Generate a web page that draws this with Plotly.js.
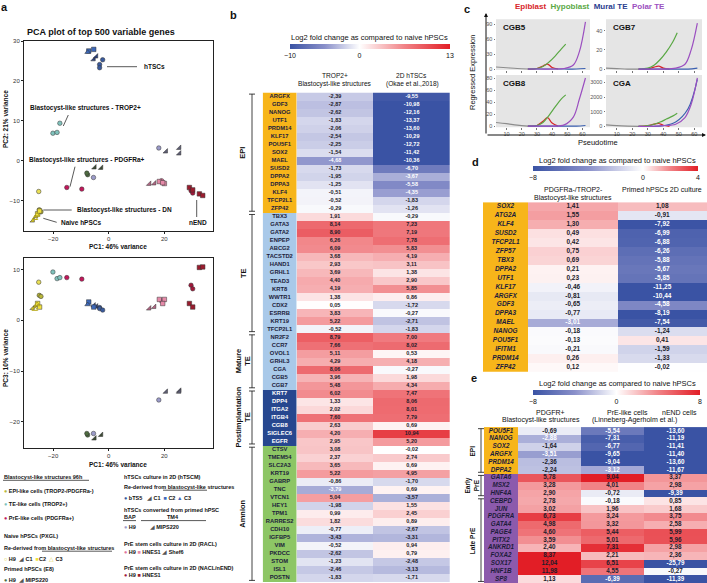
<!DOCTYPE html>
<html><head><meta charset="utf-8">
<script src="https://cdn.plot.ly/plotly-3.0.1.min.js"></script>
<style>html,body{margin:0;padding:0;background:#fff}#chart{width:707px;height:583px}</style>
</head><body><div id="chart"></div>
<script>
// ================= DATA =================
// ---- Panel a : PCA (PC1, PC2, PC3) per sample group ----
const epiLikePC1 = [-25.0, -24.4], epiLikePC2 = [-12.3, -12.8], epiLikePC3 = [4.9, 4.7];
const naiveH9PC1 = [-25.2], naiveH9PC2 = [-7.7], naiveH9PC3 = [7.5];
const naiveC1PC1 = [-27.3, -26.1], naiveC1PC2 = [-15.0, -13.9], naiveC1PC3 = [2.4, 2.9];
const naiveC2PC1 = [-25.6, -24.9], naiveC2PC2 = [-13.3, -12.6], naiveC2PC3 = [3.3, 2.6];
const naiveC3PC1 = [-26.6, -25.8], naiveC3PC2 = [-14.4, -13.6], naiveC3PC3 = [2.2, 3.1];
const teLikePC1 = [-20.1, -18.6, -17.6], teLikePC2 = [6.9, 7.1, 9.4], teLikePC3 = [9.5, 8.2, 8.4];
const preLikePC1 = [-15.1, -9.7], preLikePC2 = [-6.7, -7.1], preLikePC3 = [8.4, 8.1];
const htscBts5PC1 = [-3.3, -3.3, -2.2], htscBts5PC2 = [24.1, 23.3, 25.3], htscBts5PC3 = [2.5, 2.3, 2.0];
const htscC1PC1 = [-5.4, -4.5], htscC1PC2 = [25.4, 26.1], htscC1PC3 = [2.9, 2.7];
const htscC2PC1 = [-7.2, -5.4], htscC2PC2 = [27.5, 27.9], htscC2PC3 = [3.6, 2.6];
const htscC3PC1 = [-7.6], htscC3PC2 = [27.2], htscC3PC3 = [3.1];
const primedH9PC1 = [-7.6, -7.9], primedH9PC2 = [-3.5, -3.1], primedH9PC3 = [-22.6, -22.3];
const primedMipsPC1 = [-5.1, -2.7], primedMipsPC2 = [-1.7, -1.8], primedMipsPC3 = [-23.3, -22.6];
const bapH9PC1 = [-5.5, 18.0], bapH9PC2 = [-4.2, 3.2], bapH9PC3 = [-22.3, -15.7];
const tm4MipsPC1 = [20.6, 25.4, 25.4], tm4MipsPC2 = [2.3, 3.2, 1.8], tm4MipsPC3 = [-14.1, -13.9, -14.1];
const raclH9PC1 = [19.0], raclH9PC2 = [-5.0], raclH9PC3 = [3.8];
const raclHnesPC1 = [18.2, 20.0, 19.4], raclHnesPC2 = [-5.2, -5.7, -5.5], raclHnesPC3 = [4.1, 4.1, 3.3];
const raclShefPC1 = [14.6, 16.4], raclShefPC2 = [-5.8, -5.7], raclShefPC3 = [2.3, 2.6];
const nendH9PC1 = [29.6, 30.2], nendH9PC2 = [-7.5, -8.1], nendH9PC3 = [6.9, 6.2];
const nendHnesPC1 = [29.0, 30.2, 32.6, 33.8], nendHnesPC2 = [-6.7, -7.3, -8.3, -8.7], nendHnesPC3 = [3.3, 2.6, 10.4, 10.5];

// ---- Panel b ----
const bGenes = ['ARGFX','GDF3','NANOG','UTF1','PRDM14','KLF17','POU5F1','SOX2','MAEL','SUSD2','DPPA2','DPPA3','KLF4','TFCP2L1','ZFP42',
 'TBX3','GATA3','GATA2','ENPEP','ABCG2','TACSTD2','HAND1','GRHL1','TEAD3','KRT8','WWTR1','CDX2','ESRRB','KRT19','TFCP2L1',
 'NR2F2','CCR7','OVOL1','GRHL3','CGA','CGB5','CGB7',
 'KRT7','DPP4','ITGA2','ITGB4','CGB8','SIGLEC6','EGFR',
 'CTSV','TMEM54','SLC2A3','KRT19','GABRP','TNC','VTCN1','HEY1','TPM1','RARRES2','CDH10','IGFBP5','VIM','PKDCC','STOM','ISL1','POSTN'];
const bTrop2 = [-2.39,-2.87,-2.62,-1.83,-2.06,-2.54,-2.25,-1.54,-4.68,-1.73,-1.95,-1.25,-0.51,-0.52,-0.29,
 1.91,8.14,8.90,6.26,6.09,3.68,2.93,3.69,4.40,4.19,1.38,0.05,3.83,5.22,-0.52,
 8.79,7.66,5.11,4.29,8.06,3.96,5.48,
 6.02,1.33,2.02,7.60,2.63,4.20,2.95,
 3.08,2.37,3.65,5.22,-0.86,-3.79,5.04,-1.98,0.99,1.82,-0.77,-3.43,-0.52,-2.62,-1.23,-2.46,-1.83];
const bOkae = [-9.55,-10.98,-12.16,-13.37,-13.60,-10.29,-12.72,-11.42,-10.36,-6.70,-3.67,-5.58,-4.35,-1.83,-1.26,
 -0.29,7.23,7.19,7.78,5.83,4.19,3.11,1.38,2.90,5.85,0.86,-1.72,-0.27,-2.71,-1.83,
 7.00,8.02,0.53,4.18,-0.27,1.98,4.34,
 7.47,8.06,8.01,7.79,0.69,10.94,5.20,
 -0.02,2.74,0.69,4.95,-1.70,0.69,-3.57,1.55,2.45,0.89,-2.67,-3.31,0.94,0.79,-2.48,-3.13,-1.71];
const bGroupNames = ['EPI','TE','Mature<br>TE','Postimplantation<br>TE','Amnion'];
const bGroupSizes = [15,15,7,7,17];

// ---- Panel c (pseudotime trajectories) ----
const trunkT = [3, 10, 17, 24];
const epiT = [24, 30, 34, 37, 40, 44];
const hypoT = [24, 30, 34, 38, 42, 46, 49];
const muralT = [24, 32, 40, 48, 56, 62];
const polarT = [24, 32, 40, 48, 54, 58, 62];
const cGenes = ['CGB5','CGB7','CGB8','CGA'];
const cgb5Trunk = [4, 2.5, 1, 0], cgb5Epi = [0, 1, 6, 10, 3, 0], cgb5Hypo = [0, 1, 5, 14, 26, 40, 50], cgb5Mural = [0, 0, 0, 0, 0, 1], cgb5Polar = [0, 0, 0, 1, 8, 35, 95];
const cgb7Trunk = [1, 0.5, 0, 0], cgb7Epi = [0, 0, 2, 3, 1, 0], cgb7Hypo = [0, 1, 4, 10, 18, 28, 38], cgb7Mural = [0, 0, 0, 0, 0, 1], cgb7Polar = [0, 0, 0, 1, 5, 20, 48];
const cgb8Trunk = [6, 4, 1.5, 0], cgb8Epi = [0, 1, 8, 14, 5, 0], cgb8Hypo = [0, 1, 6, 18, 32, 45, 52], cgb8Mural = [0, 0, 0, 0, 0, 1], cgb8Polar = [0, 0, 0, 2, 15, 45, 80];
const cgaTrunk = [100, 50, 20, 0], cgaEpi = [0, 50, 150, 200, 80, 0], cgaHypo = [0, 50, 150, 300, 500, 700, 900], cgaMural = [0, 0, 50, 300, 1200, 3200], cgaPolar = [0, 0, 50, 150, 600, 1500, 3300];

// ---- Panel d ----
const dGenes = ['SOX2','ATG2A','KLF4','SUSD2','TFCP2L1','ZFP57','TBX3','DPPA2','UTF1','KLF17','ARGFX','GDF3','DPPA3','MAEL','NANOG','POU5F1','IFITM1','PRDM14','ZFP42'];
const dBlastoDN = [1.41,1.55,1.30,0.49,0.42,0.75,0.69,0.21,0.23,-0.46,-0.81,-0.65,-0.77,-3.01,-0.18,-0.13,-0.21,0.26,0.12];
const dPrimed2D = [1.08,-0.91,-7.92,-6.99,-6.88,-6.26,-5.88,-5.67,-5.85,-11.25,-10.44,-4.58,-8.19,-7.54,-1.24,0.41,-1.59,-1.33,-0.02];

// ---- Panel e ----
const eGenes = ['POU5F1','NANOG','SOX2','ARGFX','PRDM14','DPPA2','GATA6','MSX2','HNF4A','CEBPD','JUN','PDGFRA','GATA4','PAGE4','PITX2','ANKRD1','FOXA2','SOX17','HNF1B','SP8'];
const ePdgfr = [-0.69,-2.88,-1.64,-3.51,-2.36,-2.24,5.78,3.28,2.90,2.78,3.02,6.73,4.98,4.60,3.59,2.40,8.37,12.04,11.98,1.13];
const ePreLike = [-5.54,-7.31,-6.77,-9.65,-9.04,-3.12,9.04,4.01,-0.72,-0.18,1.96,3.24,3.32,5.44,5.01,7.31,2.21,6.51,4.55,-6.39];
const eNend = [-13.60,-11.19,-11.41,-11.40,-13.60,-11.67,3.37,2.98,-9.39,0.85,1.68,3.75,2.58,5.99,5.96,2.98,2.36,-25.79,-0.27,-11.39];
const eGroupNames = ['EPI','Early<br>PrE','Late PrE'];
const eGroupSizes = [6,3,11];

// ================= HELPERS =================
const W = 707, H = 583;
const X = p => p / W;
const Y = p => 1 - p / H;
const FONT = 'Liberation Sans, Arial, Helvetica, sans-serif';
const fmt = v => v.toFixed(2).replace('.', ',');
const BLUE = 'rgb(58,83,164)', RED = 'rgb(226,30,38)';
function divScale(zmin, zmax) {
  const m = -zmin / (zmax - zmin);
  return [[0, BLUE], [m * 0.5, 'rgb(138,144,202)'], [m, 'rgb(255,255,255)'], [m + (1 - m) * 0.5, 'rgb(241,130,134)'], [1, RED]];
}
function discrete(colors) {
  const n = colors.length, cs = [];
  colors.forEach((c, i) => { cs.push([i / n, c]); cs.push([(i + 1) / n, c]); });
  return cs;
}
function groupIndex(sizes) { const out = []; sizes.forEach((n, k) => { for (let i = 0; i < n; i++) out.push(k); }); return out; }

const data = [];
const shapes = [];
const annotations = [];
function ann(o) { annotations.push(Object.assign({xref: 'paper', yref: 'paper', xanchor: 'center', yanchor: 'middle', showarrow: false, borderpad: 0, font: {family: FONT, size: 7, color: '#111'}}, o)); }
function pline(x0, y0, x1, y1, w, c) { shapes.push({type: 'line', xref: 'paper', yref: 'paper', x0: X(x0), y0: Y(y0), x1: X(x1), y1: Y(y1), line: {color: c || '#111', width: w || 0.8}}); }

// ================= PANEL a =================
const pcaGroups = [
  {pc1: epiLikePC1, pc2: epiLikePC2, pc3: epiLikePC3, symbol: 'circle', color: '#b9b73a', size: 4.5},
  {pc1: naiveH9PC1, pc2: naiveH9PC2, pc3: naiveH9PC3, symbol: 'circle', color: '#e9df55', size: 4.5},
  {pc1: naiveC1PC1, pc2: naiveC1PC2, pc3: naiveC1PC3, symbol: 'triangle-se', color: '#cfc22a', size: 5},
  {pc1: naiveC2PC1, pc2: naiveC2PC2, pc3: naiveC2PC3, symbol: 'square', color: '#f2e23c', size: 4.5},
  {pc1: naiveC3PC1, pc2: naiveC3PC2, pc3: naiveC3PC3, symbol: 'triangle-up-open', color: '#b8aa1c', size: 5},
  {pc1: teLikePC1, pc2: teLikePC2, pc3: teLikePC3, symbol: 'circle', color: '#80c2bc', size: 4.5},
  {pc1: preLikePC1, pc2: preLikePC2, pc3: preLikePC3, symbol: 'circle', color: '#c2185b', size: 4.5},
  {pc1: htscBts5PC1, pc2: htscBts5PC2, pc3: htscBts5PC3, symbol: 'circle', color: '#3a5a9c', size: 4.5},
  {pc1: htscC1PC1, pc2: htscC1PC2, pc3: htscC1PC3, symbol: 'triangle-se', color: '#2b3f7a', size: 5},
  {pc1: htscC2PC1, pc2: htscC2PC2, pc3: htscC2PC3, symbol: 'square', color: '#3d68b8', size: 4.5},
  {pc1: htscC3PC1, pc2: htscC3PC2, pc3: htscC3PC3, symbol: 'triangle-up', color: '#3d68b8', size: 5},
  {pc1: primedH9PC1, pc2: primedH9PC2, pc3: primedH9PC3, symbol: 'circle', color: '#4e6b40', size: 4.5},
  {pc1: primedMipsPC1, pc2: primedMipsPC2, pc3: primedMipsPC3, symbol: 'triangle-se', color: '#3d4a35', size: 5},
  {pc1: bapH9PC1, pc2: bapH9PC2, pc3: bapH9PC3, symbol: 'circle', color: '#9b9bc9', size: 4.5},
  {pc1: tm4MipsPC1, pc2: tm4MipsPC2, pc3: tm4MipsPC3, symbol: 'triangle-se', color: '#5e5e74', size: 5},
  {pc1: raclH9PC1, pc2: raclH9PC2, pc3: raclH9PC3, symbol: 'circle', color: '#e0739c', size: 4.5},
  {pc1: raclHnesPC1, pc2: raclHnesPC2, pc3: raclHnesPC3, symbol: 'square', color: '#e58aa8', size: 4.5},
  {pc1: raclShefPC1, pc2: raclShefPC2, pc3: raclShefPC3, symbol: 'triangle-se', color: '#b06683', size: 5},
  {pc1: nendH9PC1, pc2: nendH9PC2, pc3: nendH9PC3, symbol: 'circle', color: '#a0183a', size: 4.5},
  {pc1: nendHnesPC1, pc2: nendHnesPC2, pc3: nendHnesPC3, symbol: 'square', color: '#9a1c2e', size: 4.5}
];
pcaGroups.forEach(g => {
  const open = g.symbol.indexOf('open') >= 0;
  const marker = {symbol: g.symbol, color: g.color, size: g.size, line: {color: open ? g.color : '#333', width: open ? 1 : 0.5}};
  data.push({type: 'scatter', mode: 'markers', x: g.pc1, y: g.pc2, xaxis: 'x', yaxis: 'y', marker, hoverinfo: 'skip', showlegend: false});
  data.push({type: 'scatter', mode: 'markers', x: g.pc1, y: g.pc3, xaxis: 'x2', yaxis: 'y2', marker, hoverinfo: 'skip', showlegend: false});
});
const pcaAxis = {showline: true, mirror: true, linecolor: '#222', linewidth: 1, ticks: 'outside', ticklen: 2, tickcolor: '#222',
  tickfont: {family: FONT, size: 6, color: '#333'}, showgrid: false, zeroline: false};

const lblFont = {family: FONT, size: 6.5, color: '#111'};
ann({x: X(26), y: Y(32), xanchor: 'left', text: '<b>PCA plot of top 500 variable genes</b>', font: {family: FONT, size: 9, color: '#111'}});
ann({x: X(143), y: Y(66.7), xanchor: 'left', text: '<b>hTSCs</b>', font: lblFont}); pline(107, 66.7, 137, 66.7, 0.7);
ann({x: X(28.7), y: Y(108.3), xanchor: 'left', text: '<b>Blastocyst-like structures - TROP2+</b>', font: lblFont}); pline(63.3, 126, 68.3, 115, 0.7);
ann({x: X(28), y: Y(160.3), xanchor: 'left', text: '<b>Blastocyst-like structures - PDGFRa+</b>', font: lblFont}); pline(70, 186.7, 75, 166.7, 0.7);
ann({x: X(76), y: Y(210), xanchor: 'left', text: '<b>Blastocyst-like structures - DN</b>', font: lblFont}); pline(43.3, 210, 71.7, 210, 0.7);
ann({x: X(60), y: Y(222.3), xanchor: 'left', text: '<b>Naive hPSCs</b>', font: lblFont}); pline(43.3, 218.3, 56.7, 222.3, 0.7);
ann({x: X(198), y: Y(222.3), text: '<b>nEND</b>', font: lblFont}); pline(196.7, 200, 196.7, 217, 0.7);
ann({x: X(118.5), y: Y(247), text: '<b>PC1: 46% variance</b>', font: lblFont});
ann({x: X(118.5), y: Y(464.5), text: '<b>PC1: 46% variance</b>', font: lblFont});
ann({x: X(5), y: Y(119), text: '<b>PC2: 21% variance</b>', textangle: -90, font: lblFont});
ann({x: X(5), y: Y(358), text: '<b>PC3: 10% variance</b>', textangle: -90, font: lblFont});

// legend of panel a
const lf = {family: FONT, size: 5.5, color: '#111'};
const g = (c, s) => '<span style="color:' + c + '">' + s + '</span>';
const legendLines = [
  [3, 476.7, '<b>Blastocyst-like structures 96h</b>'],
  [3, 491, g('#b9b73a', '●') + ' <b>EPI-like cells (TROP2-/PDGFRa-)</b>'],
  [3, 504.3, g('#80c2bc', '●') + ' <b>TE-like cells (TROP2+)</b>'],
  [3, 517.7, g('#c2185b', '●') + ' <b>PrE-like cells (PDGFRa+)</b>'],
  [3, 535.7, '<b>Naive hPSCs (PXGL)</b>'],
  [3, 547.7, '<b>Re-derived from blastocyst-like structures</b>'],
  [3, 559.3, g('#d8cc2a', '○') + ' <b>H9</b>  ' + g('#555', '◢') + ' <b>C1</b>  ' + g('#f2e23c', '■') + '<b>C2</b>  ' + g('#d8cc2a', '△') + ' <b>C3</b>'],
  [3, 569.3, '<b>Primed hPSCs (E8)</b>'],
  [3, 579.5, g('#4e6b40', '●') + ' <b>H9</b>  ' + g('#555', '◢') + ' <b>MIPS220</b>'],
  [123, 476.7, '<b>hTSCs culture in 2D (hTSCM)</b>'],
  [123, 486.7, '<b>Re-derived from blastocyst-like structures</b>'],
  [123, 498.3, g('#3a5a9c', '●') + ' <b>bTS5</b>   ' + g('#555', '◢') + ' <b>C1</b>  ' + g('#3d68b8', '■') + ' <b>C2</b> ' + g('#3d68b8', '▲') + ' <b>C3</b>'],
  [123, 509.5, '<b>hTSCs converted from primed hPSC</b>'],
  [123, 517, '<b>BAP</b>'],
  [166, 517, '<b>TM4</b>'],
  [123, 527, g('#9b9bc9', '●') + ' <b>H9</b>         ' + g('#555', '◢') + ' <b>MIPS220</b>'],
  [123, 544, '<b>PrE stem cells culture in 2D (RACL)</b>'],
  [123, 551.5, g('#e0739c', '●') + ' <b>H9</b> ' + g('#e58aa8', '■') + ' <b>HNES1</b> ' + g('#555', '◢') + ' <b>Shef6</b>'],
  [123, 567.5, '<b>PrE stem cells culture in 2D (NACL/nEND)</b>'],
  [123, 575, g('#a0183a', '●') + ' <b>H9</b> ' + g('#9a1c2e', '■') + ' <b>HNES1</b>']
];
legendLines.forEach(l => ann({x: X(l[0]), y: Y(l[1]), xanchor: 'left', text: l[2], font: lf}));
pline(3, 480.3, 89, 480.3, 0.7);
pline(42, 551.2, 112, 551.2, 0.7);
pline(163, 490.2, 207, 490.2, 0.7);
pline(123, 520.6, 136, 520.6, 0.7);
pline(141, 520.6, 206, 520.6, 0.7);

// ================= PANEL b =================
const bTop = 92.5, bBot = 582;
const bRows = bGenes.length;
const bGrp = groupIndex(bGroupSizes);
const bGeneColors = ['#f7b51a', '#a9c9e9', '#a9c9e9', '#27478f', '#8dc665'];
data.push({type: 'heatmap', x: [0], y: bGenes.map((_, i) => i), z: bGrp.map(k => [k]), xaxis: 'x3', yaxis: 'y3',
  colorscale: discrete(bGeneColors), zmin: -0.5, zmax: bGeneColors.length - 0.5, showscale: false, hoverinfo: 'skip'});
data.push({type: 'scatter', mode: 'text', x: bGenes.map(() => 0), y: bGenes.map((_, i) => i), text: bGenes, xaxis: 'x3', yaxis: 'y3',
  textfont: {family: FONT, size: 5.8, weight: 'bold', color: bGrp.map(k => k === 3 ? '#ffffff' : '#1c1c3a')}, hoverinfo: 'skip', cliponaxis: false, showlegend: false});
data.push({type: 'heatmap', x: [0, 1], y: bGenes.map((_, i) => i), z: bGenes.map((_, i) => [bTrop2[i], bOkae[i]]), xaxis: 'x4', yaxis: 'y4',
  colorscale: divScale(-10, 13), zmin: -10, zmax: 13, hoverinfo: 'skip', showscale: true,
  colorbar: {orientation: 'h', x: X(290), xanchor: 'left', y: Y(44), yanchor: 'top', len: 160, lenmode: 'pixels', thickness: 5, thicknessmode: 'pixels',
    outlinewidth: 0, tickvals: [-10, 0, 13], ticks: '', tickfont: {family: FONT, size: 7, color: '#111'}, xpad: 0, ypad: 0}});
function textCol(vals, col, xa, ya, vmin, thr, size) {
  data.push({type: 'scatter', mode: 'text', x: vals.map(() => col), y: vals.map((_, i) => i), text: vals.map(fmt), xaxis: xa, yaxis: ya,
    textfont: {family: FONT, size: size, weight: 'bold', color: vals.map(v => (v < 0 && v / vmin >= thr) ? '#ffffff' : '#1c1c2a')},
    hoverinfo: 'skip', cliponaxis: false, showlegend: false});
}
textCol(bTrop2, 0, 'x4', 'y4', -10, 0.36, 5.5);
textCol(bOkae, 1, 'x4', 'y4', -10, 0.36, 5.5);
ann({x: X(290), y: Y(37), xanchor: 'left', text: 'Log2 fold change as compared to naive hPSCs', font: {family: FONT, size: 7.5, color: '#111'}});
ann({x: X(335), y: Y(75), text: 'TROP2+', font: {family: FONT, size: 6.6, color: '#111'}});
ann({x: X(335), y: Y(83.5), text: 'Blastocyst-like structures', font: {family: FONT, size: 6.6, color: '#111'}});
ann({x: X(411), y: Y(75), text: '2D hTSCs', font: {family: FONT, size: 6.6, color: '#111'}});
ann({x: X(412), y: Y(83.5), text: '(Okae et al.,2018)', font: {family: FONT, size: 6.6, color: '#111'}});

function brackets(sizes, labels, yref, xLine, xLab, fsize) {
  let start = 0;
  sizes.forEach((n, k) => {
    const y0 = start - 0.5 + 0.2, y1 = start + n - 0.5 - 0.2;
    shapes.push({type: 'line', xref: 'paper', yref, x0: X(xLine), x1: X(xLine), y0, y1, line: {color: '#111', width: 0.8}});
    shapes.push({type: 'line', xref: 'paper', yref, x0: X(xLine - 3), x1: X(xLine + 3), y0: y0, y1: y0, line: {color: '#111', width: 0.8}});
    shapes.push({type: 'line', xref: 'paper', yref, x0: X(xLine - 3), x1: X(xLine + 3), y0: y1, y1: y1, line: {color: '#111', width: 0.8}});
    annotations.push({xref: 'paper', yref, x: X(xLab), y: (y0 + y1) / 2, xanchor: 'center', yanchor: 'middle', text: '<b>' + labels[k] + '</b>', textangle: -90,
      showarrow: false, borderpad: 0, font: {family: FONT, size: fsize, color: '#111'}});
    start += n;
  });
}
brackets(bGroupSizes, bGroupNames, 'y3', 252, 243, 7.5);

// ================= PANEL c =================
const cAxes = [['x5', 'y5'], ['x6', 'y6'], ['x7', 'y7'], ['x8', 'y8']];
const cSeries = [
  [cgb5Trunk, cgb5Epi, cgb5Hypo, cgb5Mural, cgb5Polar],
  [cgb7Trunk, cgb7Epi, cgb7Hypo, cgb7Mural, cgb7Polar],
  [cgb8Trunk, cgb8Epi, cgb8Hypo, cgb8Mural, cgb8Polar],
  [cgaTrunk, cgaEpi, cgaHypo, cgaMural, cgaPolar]
];
const cTimes = [trunkT, epiT, hypoT, muralT, polarT];
const cColors = ['#8c8c8c', '#d7262b', '#5aa845', '#3a5fb0', '#9b4fc0'];
cSeries.forEach((ser, gi) => {
  ser.forEach((vals, li) => {
    data.push({type: 'scatter', mode: 'lines', x: cTimes[li], y: vals, xaxis: cAxes[gi][0], yaxis: cAxes[gi][1],
      line: {color: cColors[li], width: 1.2, shape: 'spline'}, hoverinfo: 'skip', showlegend: false, cliponaxis: true});
  });
  shapes.push({type: 'rect', xref: cAxes[gi][0] + ' domain', yref: cAxes[gi][1] + ' domain', x0: 0, x1: 1, y0: 0, y1: 1,
    fillcolor: '#e5e5e5', line: {width: 0}, layer: 'below'});
  annotations.push({xref: cAxes[gi][0] + ' domain', yref: cAxes[gi][1] + ' domain', x: 0.06, y: 0.95, xanchor: 'left', yanchor: 'top',
    text: '<b>' + cGenes[gi] + '</b>', showarrow: false, borderpad: 0, font: {family: FONT, size: 8, color: '#111'}});
});
ann({x: X(514), y: Y(7), xanchor: 'left', text: '<b>' + g('#d7262b', 'Epiblast') + '  ' + g('#5aa845', 'Hypoblast') + '  ' + g('#2a3d8f', 'Mural TE') + '  ' + g('#9b4fc0', 'Polar TE') + '</b>',
  font: {family: FONT, size: 8, color: '#111'}});
ann({x: X(472), y: Y(72), text: 'Regressed Expression', textangle: -90, font: {family: FONT, size: 7.5, color: '#111'}});
ann({x: X(598), y: Y(143), text: 'Pseudotime', font: {family: FONT, size: 7.5, color: '#111'}});
annotations.push({xref: 'paper', yref: 'paper', x: X(486), y: Y(13), ax: 0, ay: 122, text: '', showarrow: true, arrowhead: 2, arrowsize: 0.8, arrowwidth: 1, arrowcolor: '#111'});
annotations.push({xref: 'paper', yref: 'paper', x: X(706), y: Y(135), ax: -220, ay: 0, text: '', showarrow: true, arrowhead: 2, arrowsize: 0.8, arrowwidth: 1, arrowcolor: '#111'});

// ================= PANEL d =================
const dTop = 202.2, dBot = 371.8;
data.push({type: 'heatmap', x: [0], y: dGenes.map((_, i) => i), z: dGenes.map(() => [0]), xaxis: 'x9', yaxis: 'y9',
  colorscale: discrete(['#f7b51a']), zmin: -0.5, zmax: 0.5, showscale: false, hoverinfo: 'skip'});
data.push({type: 'scatter', mode: 'text', x: dGenes.map(() => 0), y: dGenes.map((_, i) => i), text: dGenes, xaxis: 'x9', yaxis: 'y9',
  textfont: {family: FONT, size: 6.5, weight: 'bold', style: 'italic', color: '#1c1c3a'}, hoverinfo: 'skip', cliponaxis: false, showlegend: false});
data.push({type: 'heatmap', x: [0, 1], y: dGenes.map((_, i) => i), z: dGenes.map((_, i) => [dBlastoDN[i], dPrimed2D[i]]), xaxis: 'x10', yaxis: 'y10',
  colorscale: divScale(-8, 4), zmin: -8, zmax: 4, hoverinfo: 'skip', showscale: true,
  colorbar: {orientation: 'h', x: X(533), xanchor: 'left', y: Y(166), yanchor: 'top', len: 165, lenmode: 'pixels', thickness: 5, thicknessmode: 'pixels',
    outlinewidth: 0, tickvals: [-8, 0, 4], ticks: '', tickfont: {family: FONT, size: 7, color: '#111'}, xpad: 0, ypad: 0}});
textCol(dBlastoDN, 0, 'x10', 'y10', -8, 0.36, 6.5);
textCol(dPrimed2D, 1, 'x10', 'y10', -8, 0.36, 6.5);
ann({x: X(538), y: Y(160), xanchor: 'left', text: 'Log2 fold change as compared to naive hPSCs', font: {family: FONT, size: 7.5, color: '#111'}});
ann({x: X(573), y: Y(189.5), text: 'PDGFRa-/TROP2-', font: {family: FONT, size: 7, color: '#111'}});
ann({x: X(573), y: Y(197.5), text: 'Blastocyst-like structures', font: {family: FONT, size: 7, color: '#111'}});
ann({x: X(662), y: Y(189.5), text: 'Primed hPSCs 2D culture', font: {family: FONT, size: 7, color: '#111'}});

// ================= PANEL e =================
const eTop = 427.1, eBot = 583;
const eGrp = groupIndex(eGroupSizes);
data.push({type: 'heatmap', x: [0], y: eGenes.map((_, i) => i), z: eGrp.map(k => [k]), xaxis: 'x11', yaxis: 'y11',
  colorscale: discrete(['#f7b51a', '#8c5aac', '#8c5aac']), zmin: -0.5, zmax: 2.5, showscale: false, hoverinfo: 'skip'});
data.push({type: 'scatter', mode: 'text', x: eGenes.map(() => 0), y: eGenes.map((_, i) => i), text: eGenes, xaxis: 'x11', yaxis: 'y11',
  textfont: {family: FONT, size: 6.3, weight: 'bold', style: 'italic', color: '#1c1c3a'}, hoverinfo: 'skip', cliponaxis: false, showlegend: false});
data.push({type: 'heatmap', x: [0, 1, 2], y: eGenes.map((_, i) => i), z: eGenes.map((_, i) => [ePdgfr[i], ePreLike[i], eNend[i]]), xaxis: 'x12', yaxis: 'y12',
  colorscale: divScale(-8, 8), zmin: -8, zmax: 8, hoverinfo: 'skip', showscale: true,
  colorbar: {orientation: 'h', x: X(533), xanchor: 'left', y: Y(389.5), yanchor: 'top', len: 167, lenmode: 'pixels', thickness: 5, thicknessmode: 'pixels',
    outlinewidth: 0, tickvals: [-8, 0, 8], ticks: '', tickfont: {family: FONT, size: 7, color: '#111'}, xpad: 0, ypad: 0}});
textCol(ePdgfr, 0, 'x12', 'y12', -8, 0.355, 6.3);
textCol(ePreLike, 1, 'x12', 'y12', -8, 0.355, 6.3);
textCol(eNend, 2, 'x12', 'y12', -8, 0.355, 6.3);
ann({x: X(538), y: Y(383), xanchor: 'left', text: 'Log2 fold change as compared to naive hPSCs', font: {family: FONT, size: 7.5, color: '#111'}});
ann({x: X(550), y: Y(412), text: 'PDGFR+', font: {family: FONT, size: 7, color: '#111'}});
ann({x: X(541), y: Y(420), text: 'Blastocyst-like structures', font: {family: FONT, size: 7, color: '#111'}});
ann({x: X(627), y: Y(412), text: 'PrE-like cells', font: {family: FONT, size: 7, color: '#111'}});
ann({x: X(634), y: Y(420), text: '(Linneberg-Agerholm et al.)', font: {family: FONT, size: 7, color: '#111'}});
ann({x: X(679), y: Y(412), text: 'nEND cells', font: {family: FONT, size: 7, color: '#111'}});
brackets(eGroupSizes, eGroupNames, 'y11', 481, 472, 6.5);

// panel letters
[['a', 4, 7], ['b', 233, 15], ['c', 467, 9], ['d', 475, 162], ['e', 474, 378]].forEach(p =>
  ann({x: X(p[1]), y: Y(p[2]), text: '<b>' + p[0] + '</b>', font: {family: FONT, size: 11, color: '#111'}}));

// ================= LAYOUT =================
const hid = {visible: false, showgrid: false, zeroline: false, fixedrange: true};
function dom(a, b) { return [X(a), X(b)]; }
function vdom(top, bot) { return [Y(bot), Y(top)]; }
const cX = {showgrid: false, zeroline: false, range: [3, 65], tickvals: [10, 20, 30, 40, 50, 60], ticks: 'outside', ticklen: 1.5, tickcolor: '#777',
  tickfont: {family: FONT, size: 5.5, color: '#555'}, showline: false};
const cY = {showgrid: false, zeroline: false, ticks: 'outside', ticklen: 1.5, tickcolor: '#777', tickfont: {family: FONT, size: 5.5, color: '#555'}, showline: false};
const layout = {
  width: W, height: H, margin: {l: 0, r: 0, t: 0, b: 0}, paper_bgcolor: '#fff', plot_bgcolor: 'rgba(0,0,0,0)', showlegend: false,
  font: {family: FONT, color: '#111'},
  xaxis: Object.assign({}, pcaAxis, {domain: dom(24, 213), range: [-30.5, 37.5], tickvals: [-20, 0, 20], anchor: 'y'}),
  yaxis: Object.assign({}, pcaAxis, {domain: vdom(41, 231), range: [-17.6, 30], tickvals: [-10, 0, 10, 20, 30], anchor: 'x'}),
  xaxis2: Object.assign({}, pcaAxis, {domain: dom(24, 213), range: [-30.5, 37.5], tickvals: [-20, 0, 20], anchor: 'y2'}),
  yaxis2: Object.assign({}, pcaAxis, {domain: vdom(258.3, 447.7), range: [-25.1, 12.2], tickvals: [-20, -10, 0, 10], anchor: 'x2'}),
  xaxis3: Object.assign({}, hid, {domain: dom(262.7, 296.7), range: [-0.5, 0.5], anchor: 'y3'}),
  yaxis3: Object.assign({}, hid, {domain: vdom(bTop, bBot), range: [bRows - 0.5, -0.5], anchor: 'x3'}),
  xaxis4: Object.assign({}, hid, {domain: dom(296.7, 450), range: [-0.5, 1.5], anchor: 'y4'}),
  yaxis4: Object.assign({}, hid, {domain: vdom(bTop, bBot), range: [bRows - 0.5, -0.5], anchor: 'x4'}),
  xaxis5: Object.assign({}, cX, {domain: dom(496, 590), anchor: 'y5', showticklabels: false}),
  yaxis5: Object.assign({}, cY, {domain: vdom(19.3, 70), range: [-2, 100], tickvals: [0, 30, 60, 90], anchor: 'x5'}),
  xaxis6: Object.assign({}, cX, {domain: dom(606, 702), anchor: 'y6', showticklabels: false}),
  yaxis6: Object.assign({}, cY, {domain: vdom(19.3, 70), range: [-1, 52], tickvals: [0, 20, 40], anchor: 'x6'}),
  xaxis7: Object.assign({}, cX, {domain: dom(496, 590), anchor: 'y7'}),
  yaxis7: Object.assign({}, cY, {domain: vdom(75, 127.3), range: [-2, 85], tickvals: [0, 20, 40, 60, 80], anchor: 'x7'}),
  xaxis8: Object.assign({}, cX, {domain: dom(606, 702), anchor: 'y8'}),
  yaxis8: Object.assign({}, cY, {domain: vdom(75, 127.3), range: [-60, 3500], tickvals: [0, 1000, 2000, 3000], anchor: 'x8'}),
  xaxis9: Object.assign({}, hid, {domain: dom(483, 528), range: [-0.5, 0.5], anchor: 'y9'}),
  yaxis9: Object.assign({}, hid, {domain: vdom(dTop, dBot), range: [dGenes.length - 0.5, -0.5], anchor: 'x9'}),
  xaxis10: Object.assign({}, hid, {domain: dom(528, 707), range: [-0.5, 1.5], anchor: 'y10'}),
  yaxis10: Object.assign({}, hid, {domain: vdom(dTop, dBot), range: [dGenes.length - 0.5, -0.5], anchor: 'x10'}),
  xaxis11: Object.assign({}, hid, {domain: dom(484, 518), range: [-0.5, 0.5], anchor: 'y11'}),
  yaxis11: Object.assign({}, hid, {domain: vdom(eTop, eBot), range: [eGenes.length - 0.5, -0.5], anchor: 'x11'}),
  xaxis12: Object.assign({}, hid, {domain: dom(518, 707), range: [-0.5, 2.5], anchor: 'y12'}),
  yaxis12: Object.assign({}, hid, {domain: vdom(eTop, eBot), range: [eGenes.length - 0.5, -0.5], anchor: 'x12'}),
  shapes: shapes,
  annotations: annotations
};
Plotly.newPlot('chart', data, layout, {staticPlot: true, displayModeBar: false});
</script>
</body></html>
